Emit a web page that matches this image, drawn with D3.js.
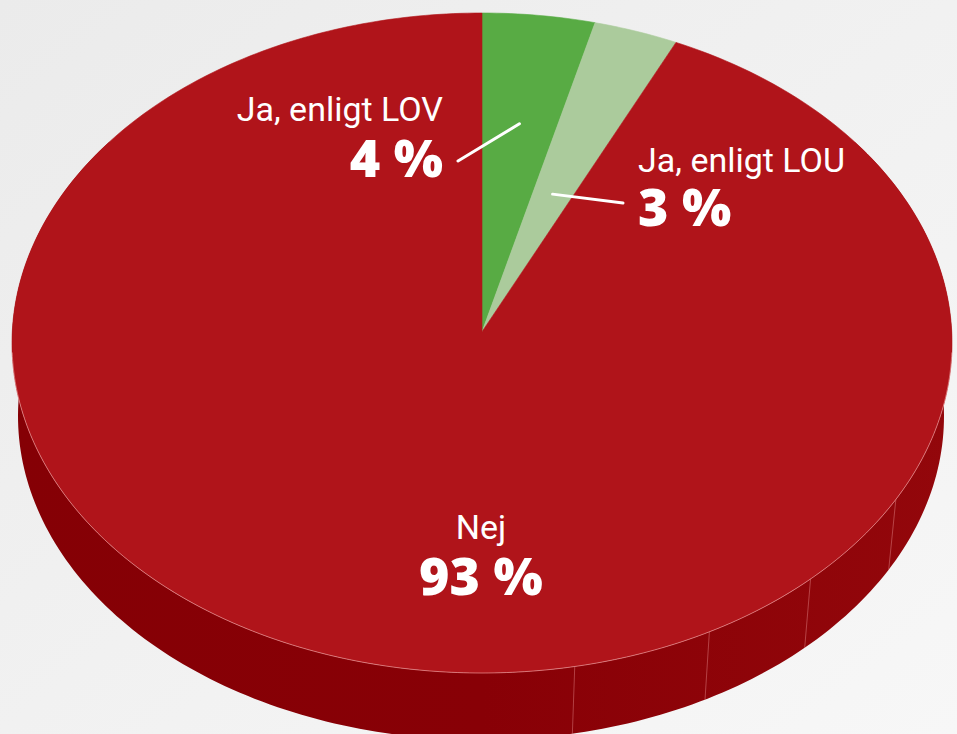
<!DOCTYPE html>
<html>
<head>
<meta charset="utf-8">
<script src="https://cdn.jsdelivr.net/npm/d3@7"></script>
<style>
  html, body { margin: 0; padding: 0; background: #efefef; }
  svg { display: block; }
</style>
</head>
<body>
<svg id="chart" width="957" height="734"></svg>
<script>
// ---- data ----
const categories = ["Ja, enligt LOV", "Ja, enligt LOU", "Nej"];
const values = [4, 3, 93];
const valueLabels = ["4 %", "3 %", "93 %"];
const colors = ["#58ab44", "#abcb9c", "#b0141a"];

// ---- geometry (3D perspective pie) ----
const W = 957, H = 734;
const svg = d3.select("#chart");
const k = 0.0342;               // perspective strength
const topG = {ax: 482, ay: 331.7, rx: 470, ry: 330};
const botG = {ax: 481, ay: 405, rx: 463, ry: 324};

function proj(g, phi, r) {
  const u = r * Math.sin(phi), v = r * Math.cos(phi);
  const w = 1 + k * v;
  const A = g.rx * Math.sqrt(1 - k * k), B = g.ry * (1 - k * k);
  return [g.ax + A * u / w, g.ay - B * v / w];
}

// background
const defs = svg.append("defs");
const bg = defs.append("linearGradient").attr("id", "bg").attr("x1", 0).attr("y1", 0).attr("x2", 1).attr("y2", 1);
bg.append("stop").attr("offset", 0).attr("stop-color", "#ebebeb");
bg.append("stop").attr("offset", 1).attr("stop-color", "#f7f7f7");
svg.append("rect").attr("width", W).attr("height", H).attr("fill", "url(#bg)");

const sideGrad = defs.append("linearGradient").attr("id", "side").attr("x1", 0).attr("y1", 0).attr("x2", 1).attr("y2", 0);
sideGrad.append("stop").attr("offset", 0).attr("stop-color", "#850005");
sideGrad.append("stop").attr("offset", 0.5).attr("stop-color", "#880006");
sideGrad.append("stop").attr("offset", 1).attr("stop-color", "#93070b");

const line = d3.line();
const N = 240;

// side wall
const a0 = 0.3 * Math.PI, a1 = 1.7 * Math.PI;
const sidePts = [];
for (let i = 0; i <= N; i++) sidePts.push(proj(topG, a0 + (a1 - a0) * i / N, 1));
for (let i = N; i >= 0; i--) sidePts.push(proj(botG, a0 + (a1 - a0) * i / N, 1));
svg.append("path").attr("d", line(sidePts) + "Z").attr("fill", "url(#side)");

// side seams (rendering facets)
const seamDeg = [11, 28, 43, 60];
svg.selectAll("line.seam").data(seamDeg).join("line")
  .attr("class", "seam")
  .each(function(d) {
    const phi = Math.PI - d * Math.PI / 180;
    const p = proj(topG, phi, 1), q = proj(botG, phi, 1);
    d3.select(this).attr("x1", p[0]).attr("y1", p[1]).attr("x2", q[0]).attr("y2", q[1]);
  })
  .attr("stroke", "rgba(255,180,180,0.35)").attr("stroke-width", 1);

// top face slices
const pie = d3.pie().sort(null).value(d => d)(values);
svg.selectAll("path.slice").data(pie).join("path")
  .attr("class", "slice")
  .attr("d", d => {
    const pts = [proj(topG, 0, 0)];
    const n = Math.max(8, Math.ceil((d.endAngle - d.startAngle) / (2 * Math.PI) * 400));
    for (let i = 0; i <= n; i++) pts.push(proj(topG, d.startAngle + (d.endAngle - d.startAngle) * i / n, 1));
    return line(pts) + "Z";
  })
  .attr("fill", (d, i) => colors[i])
  .attr("stroke", (d, i) => colors[i]).attr("stroke-width", 0.6);

// rim highlight on front edge
const rimPts = [];
for (let i = 0; i <= N; i++) rimPts.push(proj(topG, 0.52 * Math.PI + (0.96 * Math.PI) * i / N, 1));
svg.append("path").attr("d", line(rimPts)).attr("fill", "none")
  .attr("stroke", "rgba(255,200,200,0.55)").attr("stroke-width", 0.9);

// leader lines
const leaders = [
  {i: 0, r: 0.65, to: [458, 161]},
  {i: 1, r: 0.45, to: [623, 203]}
];
svg.selectAll("line.leader").data(leaders).join("line")
  .attr("class", "leader")
  .each(function(d) {
    const s = pie[d.i];
    const p = proj(topG, (s.startAngle + s.endAngle) / 2, d.r);
    d3.select(this).attr("x1", p[0]).attr("y1", p[1]).attr("x2", d.to[0]).attr("y2", d.to[1]);
  })
  .attr("stroke", "#fff").attr("stroke-width", 3).attr("stroke-linecap", "round");

// labels (name + value as one text block)
const labelPos = [
  {x: 443, yName: 121, yVal: 177, anchor: "end"},
  {x: 638, yName: 172, yVal: 226, anchor: "start"},
  {x: 481, yName: 539, yVal: 595, anchor: "middle"}
];
const regFont = "Roboto, 'Liberation Sans', Arial, sans-serif";
const boldFont = "'Open Sans', 'Noto Sans', Arial, sans-serif";
const lg = svg.append("g");
categories.forEach((c, i) => {
  const p = labelPos[i];
  const t = lg.append("text").attr("text-anchor", p.anchor).attr("fill", "#fff");
  t.append("tspan").attr("x", p.x).attr("y", p.yName)
    .attr("font-family", regFont).attr("font-size", 34).text(c);
  t.append("tspan").attr("x", p.x).attr("y", p.yVal)
    .attr("font-family", boldFont).attr("font-weight", 800).attr("font-size", 52)
    .text(valueLabels[i]);
});
</script>
</body>
</html>
